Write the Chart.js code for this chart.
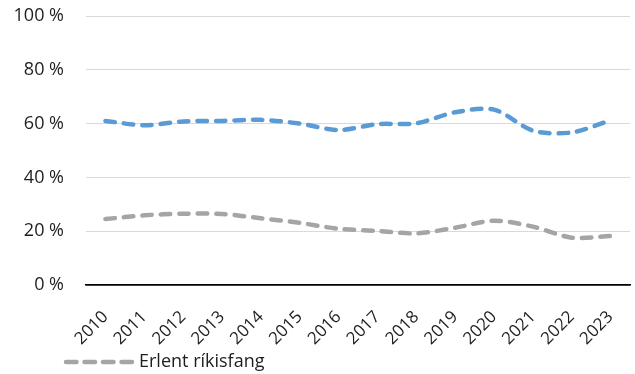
<!DOCTYPE html>
<html lang="is">
<head>
<meta charset="utf-8">
<script src="https://cdn.jsdelivr.net/npm/chart.js@4/dist/chart.umd.min.js"></script>
<style>
  html, body { margin: 0; padding: 0; background: #fff; }
  #wrap { width: 635px; height: 374px; position: relative; }
</style>
</head>
<body>
<div id="wrap"><canvas id="chart"></canvas></div>
<script>
// Ár á x-ás
const years = ['2010', '2011', '2012', '2013', '2014', '2015', '2016',
               '2017', '2018', '2019', '2020', '2021', '2022', '2023'];

// Hlutfall (%) - bláa línan (ekki í skýringu)
const blueValues = [61.0, 59.4, 60.8, 61.0, 61.4, 60.0, 57.6,
                    59.8, 60.1, 64.2, 65.2, 57.4, 56.7, 61.2];

// Hlutfall (%) - erlent ríkisfang
const grayValues = [24.5, 25.9, 26.5, 26.4, 24.8, 23.1, 20.9,
                    20.1, 19.2, 21.3, 23.9, 21.7, 17.6, 18.2];

const yTicks = [0, 20, 40, 60, 80, 100];

const FONT = "'Open Sans', 'Noto Sans', sans-serif";
const TEXT = '#1e1e1e';
const DASH = [9.5, 9];

// skýring neðst til vinstri: brotin lína + texti
const dashedLegend = {
    id: 'dashedLegend',
    afterDraw(chart) {
        const ds = chart.data.datasets[1];
        const ctx = chart.ctx;
        const y = 362;
        ctx.save();
        ctx.strokeStyle = ds.borderColor;
        ctx.lineWidth = ds.borderWidth;
        ctx.lineCap = 'round';
        ctx.setLineDash([10.5, 8]);
        ctx.beginPath();
        ctx.moveTo(66, y);
        ctx.lineTo(133, y);
        ctx.stroke();
        ctx.setLineDash([]);
        ctx.fillStyle = TEXT;
        ctx.font = '18px ' + FONT;
        ctx.textBaseline = 'middle';
        ctx.fillText(ds.label, 139, y);
        ctx.restore();
    }
};

const chart = new Chart(document.getElementById('chart'), {
    type: 'line',
    data: {
        labels: years,
        datasets: [
            {
                label: '',
                data: blueValues,
                borderColor: '#5B9BD5',
                borderWidth: 4.5,
                borderDash: DASH,
                borderCapStyle: 'round',
                tension: 0.3,
                pointRadius: 0,
                fill: false
            },
            {
                label: 'Erlent ríkisfang',
                data: grayValues,
                borderColor: '#A5A5A5',
                borderWidth: 4.5,
                borderDash: DASH,
                borderCapStyle: 'round',
                tension: 0.3,
                pointRadius: 0,
                fill: false
            }
        ]
    },
    options: {
        responsive: true,
        maintainAspectRatio: false,
        animation: false,
        layout: { padding: { top: 0, right: 5, left: 0, bottom: 0 } },
        plugins: {
            tooltip: { enabled: false },
            legend: { display: false }
        },
        scales: {
            x: {
                offset: true,
                afterFit: axis => {
                    axis.height = 89;
                    axis.paddingLeft = 0;
                    axis.paddingRight = 0;
                },
                grid: { display: false, drawTicks: false },
                border: { color: '#000', width: 1.5 },
                ticks: {
                    color: TEXT,
                    maxRotation: 45,
                    minRotation: 45,
                    padding: 22,
                    font: { family: FONT, size: 17 }
                }
            },
            y: {
                min: 0,
                max: 100,
                afterBuildTicks: axis => { axis.ticks = yTicks.map(v => ({ value: v })); },
                afterFit: axis => {
                    axis.width = 86;
                    axis.paddingTop = 16;
                    axis.paddingBottom = 0;
                },
                grid: {
                    color: ctx => ctx.tick.value === 0 ? '#000' : '#d9d9d9',
                    lineWidth: ctx => ctx.tick.value === 0 ? 1.5 : 1,
                    drawTicks: false
                },
                border: { display: false },
                ticks: {
                    color: TEXT,
                    padding: 22,
                    font: { family: FONT, size: 18 },
                    callback: v => v + ' %'
                }
            }
        }
    },
    plugins: [dashedLegend]
});
</script>
</body>
</html>
